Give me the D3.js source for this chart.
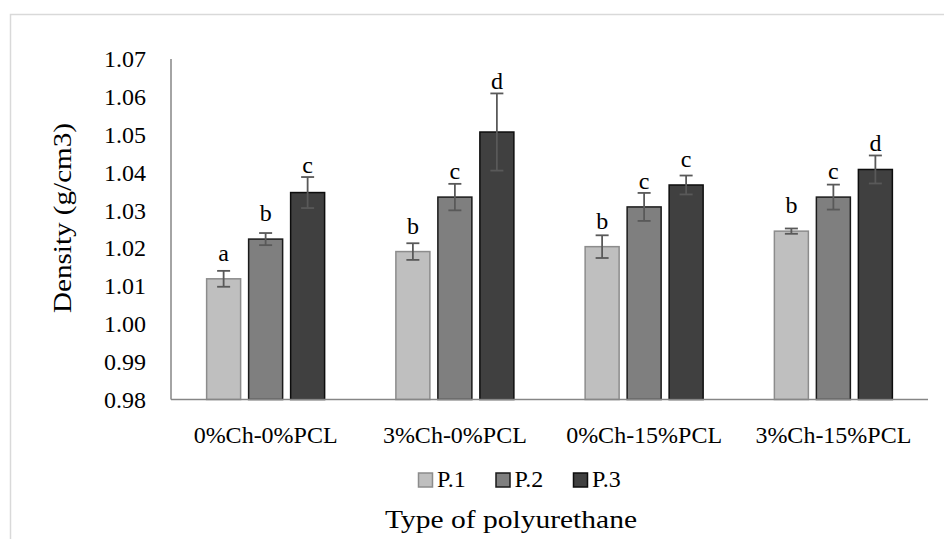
<!DOCTYPE html>
<html>
<head>
<meta charset="utf-8">
<script src="https://cdn.jsdelivr.net/npm/d3@7"></script>
<style>
  html, body { margin: 0; padding: 0; background: #fff; }
  svg { display: block; }
  svg text { font-family: "Liberation Serif", "Times New Roman", serif; fill: #000; }
</style>
</head>
<body>
<svg id="chart" width="944" height="539"></svg>
<script>
// Density of each polyurethane type, three samples each, with standard deviations
const categories = ["0%Ch-0%PCL", "3%Ch-0%PCL", "0%Ch-15%PCL", "3%Ch-15%PCL"];
const seriesNames = ["P.1", "P.2", "P.3"];
const p1Values = [1.0119, 1.0191, 1.0204, 1.0245];
const p2Values = [1.0224, 1.0335, 1.0309, 1.0335];
const p3Values = [1.0347, 1.0507, 1.0367, 1.0408];
const p1Errors = [0.0021, 0.0022, 0.0030, 0.0007];
const p2Errors = [0.0016, 0.0035, 0.0037, 0.0033];
const p3Errors = [0.0041, 0.0102, 0.0025, 0.0037];
const p1Letters = ["a", "b", "b", "b"];
const p2Letters = ["b", "c", "c", "c"];
const p3Letters = ["c", "d", "c", "d"];
const yTicks = [0.98, 0.99, 1.00, 1.01, 1.02, 1.03, 1.04, 1.05, 1.06, 1.07];

const values = [p1Values, p2Values, p3Values];
const errors = [p1Errors, p2Errors, p3Errors];
const letters = [p1Letters, p2Letters, p3Letters];

const fills = { "P.1": "#bfbfbf", "P.2": "#7f7f7f", "P.3": "#404040" };
const strokes = { "P.1": "#8c8c8c", "P.2": "#1a1a1a", "P.3": "#0d0d0d" };
const serif = "'Liberation Serif', 'Times New Roman', serif";

const rows = [];
categories.forEach((c, i) => {
  seriesNames.forEach((s, j) => {
    rows.push({ cat: c, series: s, value: values[j][i], err: errors[j][i], letter: letters[j][i] });
  });
});

const svg = d3.select("#chart");

// chart area frame (extends past the page edge)
svg.append("rect")
  .attr("x", 10.5).attr("y", 14.5)
  .attr("width", 1000).attr("height", 600)
  .attr("fill", "none").attr("stroke", "#d9d9d9").attr("stroke-width", 1.5);

const plot = { left: 171, right: 928, top: 59, bottom: 399.5 };

const x0 = d3.scaleBand().domain(categories).range([plot.left, plot.right]).padding(0);
const x1 = d3.scaleBand().domain(seriesNames).range([-63, 63]).padding(0);
const barW = 34;
const y = d3.scaleLinear().domain([0.98, 1.07]).range([plot.bottom, plot.top]);

// y axis: labels only, plus the axis line
const yAxis = d3.axisLeft(y).tickValues(yTicks).tickFormat(d3.format(".2f")).tickSize(0).tickPadding(25);
const gy = svg.append("g").attr("transform", `translate(${plot.left},0)`).call(yAxis);
gy.attr("font-family", null).attr("font-size", null);
gy.select(".domain").remove();
gy.selectAll("text").style("font-family", serif).style("font-size", "24px").attr("fill", "#000");

svg.append("line")
  .attr("x1", plot.left).attr("x2", plot.left)
  .attr("y1", plot.top).attr("y2", plot.bottom)
  .attr("stroke", "#868686").attr("stroke-width", 1.5);

// bars
const bars = svg.append("g");
bars.selectAll("rect").data(rows).join("rect")
  .attr("x", d => x0(d.cat) + x0.bandwidth() / 2 + x1(d.series) + (x1.bandwidth() - barW) / 2)
  .attr("y", d => y(d.value))
  .attr("width", barW)
  .attr("height", d => y(0.98) - y(d.value))
  .attr("fill", d => fills[d.series])
  .attr("stroke", d => strokes[d.series])
  .attr("stroke-width", 1.5);

const cx = d => x0(d.cat) + x0.bandwidth() / 2 + x1(d.series) + x1.bandwidth() / 2;

// error bars
const eb = svg.append("g").attr("stroke", "#595959").attr("stroke-width", 1.8);
eb.selectAll("line.v").data(rows).join("line").attr("class", "v")
  .attr("x1", cx).attr("x2", cx)
  .attr("y1", d => y(d.value + d.err)).attr("y2", d => y(d.value - d.err));
eb.selectAll("line.t").data(rows).join("line").attr("class", "t")
  .attr("x1", d => cx(d) - 6.5).attr("x2", d => cx(d) + 6.5)
  .attr("y1", d => y(d.value + d.err)).attr("y2", d => y(d.value + d.err));
eb.selectAll("line.b").data(rows).join("line").attr("class", "b")
  .attr("x1", d => cx(d) - 6.5).attr("x2", d => cx(d) + 6.5)
  .attr("y1", d => y(d.value - d.err)).attr("y2", d => y(d.value - d.err));

// significance letters above each bar
svg.append("g").selectAll("text").data(rows).join("text")
  .attr("x", cx)
  .attr("y", d => Math.min(y(d.value) - 18, y(d.value + d.err) - 4))
  .attr("text-anchor", "middle")
  .style("font-size", "24px")
  .text(d => d.letter);

// x axis line and category labels
svg.append("line")
  .attr("x1", plot.left).attr("x2", plot.right)
  .attr("y1", plot.bottom).attr("y2", plot.bottom)
  .attr("stroke", "#868686").attr("stroke-width", 1.5);

svg.append("g").selectAll("text").data(categories).join("text")
  .attr("x", d => x0(d) + x0.bandwidth() / 2)
  .attr("y", 442.5)
  .attr("text-anchor", "middle")
  .style("font-size", "24px")
  .text(d => d);

// legend
const legend = svg.append("g").attr("transform", "translate(418,0)");
const li = legend.selectAll("g").data(seriesNames).join("g")
  .attr("transform", (d, i) => `translate(${i * 77.5},0)`);
li.append("rect")
  .attr("x", 0.5).attr("y", 473)
  .attr("width", 14).attr("height", 14)
  .attr("fill", d => fills[d]).attr("stroke", d => strokes[d]).attr("stroke-width", 1.5);
li.append("text")
  .attr("x", 19).attr("y", 486.5)
  .style("font-size", "24px")
  .text(d => d);

// axis titles
svg.append("text")
  .attr("x", 511).attr("y", 528)
  .attr("text-anchor", "middle")
  .style("font-size", "25px")
  .attr("textLength", 252).attr("lengthAdjust", "spacingAndGlyphs")
  .text("Type of polyurethane");

svg.append("text")
  .attr("transform", "translate(71,218) rotate(-90)")
  .attr("text-anchor", "middle")
  .style("font-size", "25px")
  .attr("textLength", 190).attr("lengthAdjust", "spacingAndGlyphs")
  .text("Density (g/cm3)");
</script>
</body>
</html>
